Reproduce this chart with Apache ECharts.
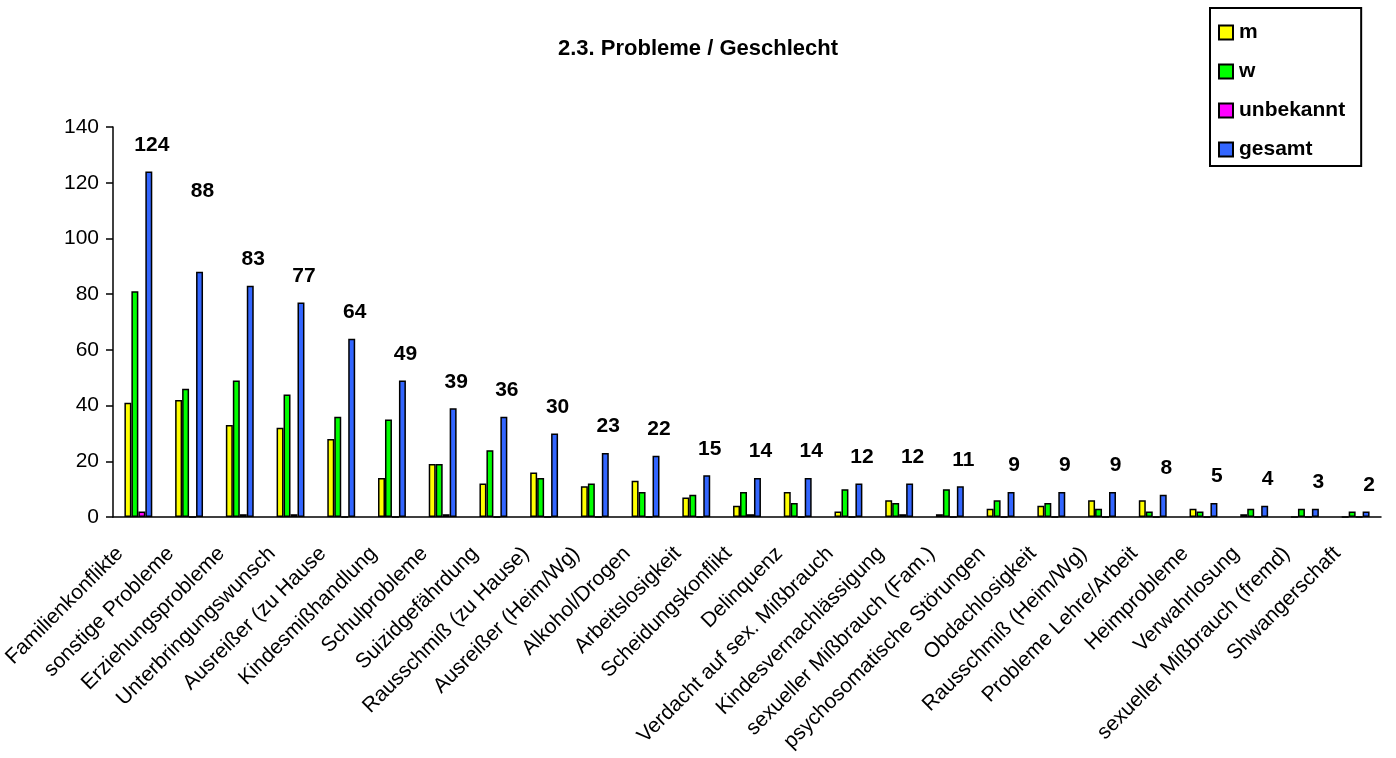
<!DOCTYPE html>
<html>
<head>
<meta charset="utf-8">
<script src="https://cdn.jsdelivr.net/npm/echarts@6/dist/echarts.min.js"></script>
<style>
  html, body { margin: 0; padding: 0; background: #fff; }
  #chart { width: 1396px; height: 758px; }
</style>
</head>
<body>
<div id="chart"></div>
<script>
// categories, in the order shown
const categories = [
  'Familienkonflikte', 'sonstige Probleme', 'Erziehungsprobleme', 'Unterbringungswunsch',
  'Ausreißer (zu Hause', 'Kindesmißhandlung', 'Schulprobleme', 'Suizidgefährdung',
  'Rausschmiß (zu Hause)', 'Ausreißer (Heim/Wg)', 'Alkohol/Drogen', 'Arbeitslosigkeit',
  'Scheidungskonflikt', 'Delinquenz', 'Verdacht auf sex. Mißbrauch', 'Kindesvernachlässigung',
  'sexueller Mißbrauch (Fam.)', 'psychosomatische Störungen', 'Obdachlosigkeit',
  'Rausschmiß (Heim/Wg)', 'Probleme Lehre/Arbeit', 'Heimprobleme', 'Verwahrlosung',
  'sexueller Mißbrauch (fremd)', 'Shwangerschaft'
];

// values
const mValues =         [41, 42, 33, 32, 28, 14, 19, 12, 16, 11, 13, 7, 4, 9, 2, 6, 1, 3, 4, 6, 6, 3, 1, 0, 0];
const wValues =         [81, 46, 49, 44, 36, 35, 19, 24, 14, 12, 9, 8, 9, 5, 10, 5, 10, 6, 5, 3, 2, 2, 3, 3, 2];
const unbekanntValues = [2, 0, 1, 1, 0, 0, 1, 0, 0, 0, 0, 0, 1, 0, 0, 1, 0, 0, 0, 0, 0, 0, 0, 0, 0];
const gesamtValues =    [124, 88, 83, 77, 64, 49, 39, 36, 30, 23, 22, 15, 14, 14, 12, 12, 11, 9, 9, 9, 8, 5, 4, 3, 2];

const yTicks = { min: 0, max: 140, interval: 20 };

const FONT = '"Liberation Sans", Arial, sans-serif';

const chart = echarts.init(document.getElementById('chart'));

const barBase = {
  type: 'bar',
  barGap: '0%',
  barCategoryGap: '45%',
  animation: false
};

function bar(name, color, values) {
  return Object.assign({}, barBase, {
    name,
    data: values,
    itemStyle: { color, borderColor: '#000', borderWidth: 1.5 }
  });
}

// the "88" label sits higher than the others in the reference
const gesamtData = gesamtValues.map((v, i) =>
  i === 1 ? { value: v, label: { distance: 70 } } : v
);

const gesamt = bar('gesamt', '#3366FF', gesamtData);
gesamt.label = {
  show: true,
  position: 'top',
  distance: 16,
  offset: [3, 0],
  color: '#000',
  fontFamily: FONT,
  fontSize: 21,
  fontWeight: 'bold'
};

const option = {
  backgroundColor: '#fff',
  title: {
    text: '2.3. Probleme / Geschlecht',
    left: 'center',
    top: 33,
    textStyle: { fontFamily: FONT, fontSize: 22, fontWeight: 'bold', color: '#000' }
  },
  legend: {
    orient: 'vertical',
    left: 1210,
    top: 8,
    padding: [14, 16, 6, 8],
    itemWidth: 14,
    itemHeight: 14,
    itemGap: 18,
    icon: 'rect',
    borderColor: '#000',
    borderWidth: 2,
    data: ['m', 'w', 'unbekannt', 'gesamt'],
    textStyle: {
      fontFamily: FONT, fontSize: 21, fontWeight: 'bold', color: '#000',
      lineHeight: 18, padding: [0, 0, 0, 1]
    }
  },
  grid: {
    left: 113, right: 15, top: 127, bottom: 241,
    containLabel: false,
    outerBoundsMode: 'none'
  },
  xAxis: {
    type: 'category',
    data: categories,
    axisLine: { lineStyle: { color: '#000', width: 1.5 } },
    axisTick: { length: 7, lineStyle: { color: '#000', width: 1.5 } },
    axisLabel: {
      interval: 0,
      rotate: 45,
      margin: 15,
      padding: [0, 26, 0, 0],
      color: '#000',
      fontFamily: FONT,
      fontSize: 21
    }
  },
  yAxis: {
    type: 'value',
    min: yTicks.min,
    max: yTicks.max,
    interval: yTicks.interval,
    splitLine: { show: false },
    axisLine: { show: true, lineStyle: { color: '#000', width: 1.5 } },
    axisTick: { show: true, length: 7, lineStyle: { color: '#000', width: 1.5 } },
    axisLabel: { margin: 14, color: '#000', fontFamily: FONT, fontSize: 21 }
  },
  series: [
    bar('m', '#FFFF00', mValues),
    bar('w', '#00FF00', wValues),
    bar('unbekannt', '#FF00FF', unbekanntValues),
    gesamt
  ]
};

chart.setOption(option);
</script>
</body>
</html>
